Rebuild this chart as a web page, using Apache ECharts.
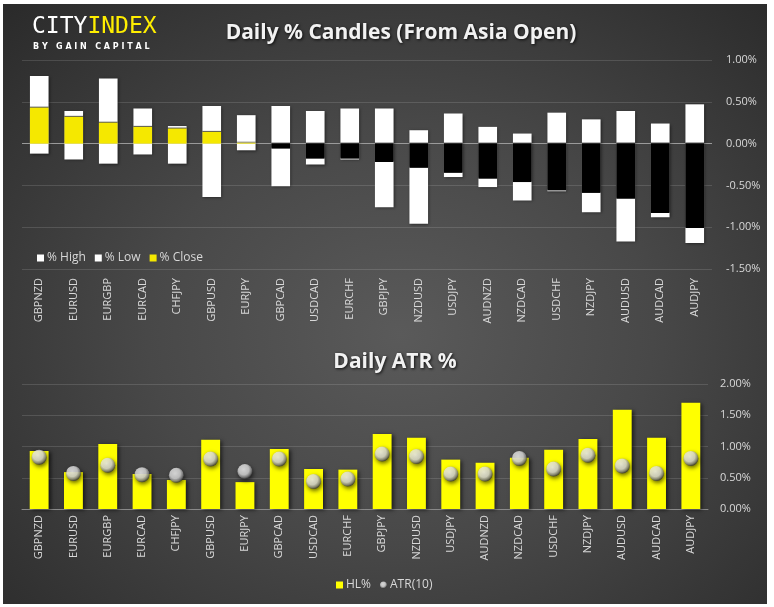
<!DOCTYPE html>
<html lang="en">
<head>
	<meta charset="UTF-8">
	<title>daily candles</title>
	<style>
		body{
			margin: 0;
			background: #ffffff;
		}
		#main{
			position: absolute;
			left: 3px;
			top: 4px;
			width: 764px;
			height: 600px;
			background: radial-gradient(ellipse at 52% 55%, #5a5a5a 0%, #484848 45%, #2a2a2a 100%);
		}
	</style>
	<script src="https://cdn.jsdelivr.net/npm/echarts@6/dist/echarts.min.js"></script>
</head>
<body>
	<div id="main"></div>
	<script>
		// 货币对
		var pairs = ['GBPNZD','EURUSD','EURGBP','EURCAD','CHFJPY','GBPUSD','EURJPY','GBPCAD','USDCAD','EURCHF',
			'GBPJPY','NZDUSD','USDJPY','AUDNZD','NZDCAD','USDCHF','NZDJPY','AUDUSD','AUDCAD','AUDJPY'];
		// 上图：从亚洲开盘起的 % 高/低/收
		var highPct = [0.81,0.39,0.78,0.42,0.21,0.45,0.34,0.45,0.39,0.42,0.42,0.16,0.36,0.20,0.12,0.37,0.29,0.39,0.24,0.47];
		var lowPct = [-0.12,-0.19,-0.24,-0.13,-0.24,-0.64,-0.08,-0.51,-0.25,-0.19,-0.76,-0.96,-0.40,-0.52,-0.68,-0.57,-0.82,-1.17,-0.88,-1.19];
		var closePct = [0.43,0.32,0.25,0.20,0.18,0.14,0.01,-0.06,-0.18,-0.18,-0.22,-0.29,-0.35,-0.42,-0.46,-0.56,-0.59,-0.66,-0.83,-1.01];
		// 下图：HL% 和 ATR(10)
		var hlPct = [0.93,0.59,1.04,0.56,0.465,1.11,0.43,0.96,0.64,0.63,1.20,1.14,0.79,0.74,0.82,0.95,1.12,1.59,1.14,1.70];
		var atrPct = [0.83,0.57,0.70,0.55,0.54,0.80,0.60,0.80,0.44,0.48,0.88,0.84,0.56,0.56,0.81,0.64,0.86,0.69,0.57,0.81];

		var myChart = echarts.init(document.getElementById('main'));

		var font = 'Open Sans';
		var labelColor = '#d8d8d8';
		var gridColor = 'rgba(255,255,255,0.13)';
		var barShadow = {
			shadowColor: 'rgba(0,0,0,0.55)',
			shadowBlur: 3,
			shadowOffsetX: 1,
			shadowOffsetY: 1
		};

		function pct(v){
			return v.toFixed(2) + '%';
		}

		var closeData = closePct.map(function(v){
			return v < 0 ? {value: v, itemStyle: {color: '#000000'}} : v;
		});

		// 银色小球
		var ball = {
			type: 'radial', x: 0.42, y: 0.38, r: 0.62,
			colorStops: [
				{offset: 0, color: '#ffffff'},
				{offset: 0.55, color: '#e2e2e2'},
				{offset: 0.82, color: '#8c8c8c'},
				{offset: 1, color: '#3a3a3a'}
			]
		};

		var titleStyle = {
			fill: '#f2f2f2', fontSize: 21, fontWeight: 'bold', fontFamily: font,
			align: 'center', verticalAlign: 'middle',
			textShadowColor: 'rgba(0,0,0,0.8)', textShadowBlur: 3, textShadowOffsetX: 1, textShadowOffsetY: 1
		};

		var option = {
			backgroundColor: 'transparent',
			textStyle: {fontFamily: font},
			animation: false,
			graphic: [
				{
					type: 'text', left: 29, top: 12,
					style: {
						text: '{a|CITY}{b|INDEX}',
						rich: {
							a: {fill: '#ffffff', fontSize: 23, fontFamily: 'DejaVu Sans Mono'},
							b: {fill: '#ffee00', fontSize: 23, fontFamily: 'DejaVu Sans Mono'}
						}
					}
				},
				{
					type: 'text', left: 30, top: 39,
					style: {
						text: 'B Y   G A I N   C A P I T A L',
						fill: '#ffffff', fontSize: 8, fontWeight: 'bold', fontFamily: 'DejaVu Sans'
					}
				},
				{
					type: 'text', x: 398, y: 29,
					style: Object.assign({text: 'Daily % Candles (From Asia Open)'}, titleStyle)
				},
				{
					type: 'text', x: 392, y: 358,
					style: Object.assign({text: 'Daily ATR %'}, titleStyle)
				}
			],
			legend: [
				{
					left: 29, top: 243,
					itemWidth: 7, itemHeight: 7, itemGap: 9,
					icon: 'rect',
					textStyle: {color: labelColor, fontSize: 12, fontFamily: font, padding: [0, 0, 0, -2]},
					data: ['% High', '% Low', '% Close']
				},
				{
					left: 328, top: 570,
					itemWidth: 7, itemHeight: 7, itemGap: 9,
					textStyle: {color: labelColor, fontSize: 12, fontFamily: font, padding: [0, 0, 0, -2]},
					data: [{name: 'HL%', icon: 'rect'}, {name: 'ATR(10)', icon: 'circle'}]
				}
			],
			grid: [
				{left: 19, top: 56, width: 690, height: 209},
				{left: 19, top: 380, width: 686, height: 125}
			],
			xAxis: [
				{
					type: 'category', gridIndex: 0, data: pairs,
					axisLine: {show: false}, axisTick: {show: false},
					axisLabel: {rotate: 90, color: labelColor, fontSize: 11, margin: 9, interval: 0}
				},
				{
					type: 'category', gridIndex: 1, data: pairs,
					axisLine: {lineStyle: {color: '#8a8a8a'}}, axisTick: {show: false},
					axisLabel: {rotate: 90, color: labelColor, fontSize: 11, margin: 6, interval: 0}
				}
			],
			yAxis: [
				{
					type: 'value', gridIndex: 0, position: 'right',
					min: -1.5, max: 1, interval: 0.5,
					axisLabel: {color: labelColor, fontSize: 11, margin: 14, formatter: pct},
					// -1.5, -1.0, -0.5, 0, 0.5, 1.0
					splitLine: {lineStyle: {color: [gridColor, gridColor, gridColor, '#9a9a9a', gridColor, gridColor]}}
				},
				{
					type: 'value', gridIndex: 1, position: 'right',
					min: 0, max: 2, interval: 0.5,
					axisLabel: {color: labelColor, fontSize: 11, margin: 12, formatter: pct},
					splitLine: {lineStyle: {color: gridColor}}
				}
			],
			series: [
				{
					name: '% High', type: 'bar', xAxisIndex: 0, yAxisIndex: 0,
					barWidth: '54%', barGap: '-100%',
					itemStyle: Object.assign({color: '#ffffff'}, barShadow),
					data: highPct
				},
				{
					name: '% Low', type: 'bar', xAxisIndex: 0, yAxisIndex: 0,
					barWidth: '54%', barGap: '-100%',
					itemStyle: Object.assign({color: '#ffffff'}, barShadow),
					data: lowPct
				},
				{
					name: '% Close', type: 'bar', xAxisIndex: 0, yAxisIndex: 0,
					barWidth: '54%', barGap: '-100%',
					itemStyle: {
						color: '#f5e800',
						shadowColor: 'rgba(0,0,0,0.65)', shadowBlur: 0, shadowOffsetX: 0, shadowOffsetY: -1
					},
					data: closeData
				},
				{
					name: 'HL%', type: 'bar', xAxisIndex: 1, yAxisIndex: 1,
					barWidth: '55%',
					itemStyle: {
						color: '#ffff00',
						shadowColor: 'rgba(0,0,0,0.6)', shadowBlur: 4, shadowOffsetX: 2, shadowOffsetY: 1
					},
					data: hlPct
				},
				{
					name: 'ATR(10)', type: 'scatter', xAxisIndex: 1, yAxisIndex: 1,
					symbolSize: 15, z: 5,
					itemStyle: {
						color: ball,
						shadowColor: 'rgba(0,0,0,0.75)', shadowBlur: 4, shadowOffsetX: 1, shadowOffsetY: 2
					},
					data: atrPct
				}
			]
		};

		myChart.setOption(option);
	</script>
</body>
</html>
